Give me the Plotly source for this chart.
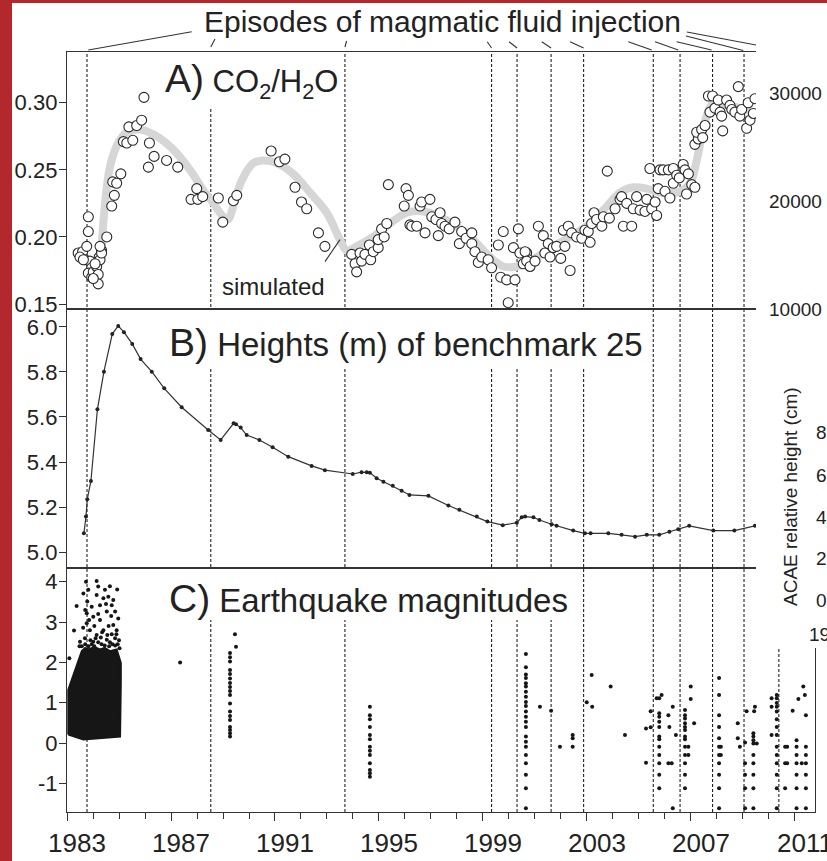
import plotly.graph_objects as go

# ---------------- data ----------------
# A) CO2/H2O ratio of fumarole gases (open circles)
co2_year = [
    1983.43, 1983.60, 1983.50, 1983.76, 1983.82, 1983.82, 1983.69, 1983.88, 1983.95, 1983.82,
    1983.95, 1984.01, 1984.14, 1984.20, 1984.24, 1984.33, 1984.27, 1984.20, 1984.01, 1984.08,
    1984.33, 1983.63, 1984.27, 1984.53, 1984.72, 1984.82, 1984.76, 1984.91, 1985.07, 1985.17,
    1985.30, 1985.53, 1985.38, 1985.68, 1985.87, 1985.96, 1986.17, 1986.13, 1986.35, 1986.83,
    1987.26, 1987.99, 1987.77, 1988.03, 1988.22, 1988.82, 1988.99, 1989.40, 1989.53, 1990.85,
    1991.17, 1991.38, 1991.77, 1992.02, 1992.22, 1992.67, 1992.92, 1993.95, 1994.08, 1994.14,
    1994.27, 1994.33, 1994.46, 1994.63, 1994.68, 1994.78, 1994.97, 1994.97, 1995.10, 1995.20,
    1995.30, 1995.36, 1995.97, 1996.04, 1996.13, 1996.19, 1996.26, 1996.45, 1996.58, 1996.64,
    1996.77, 1996.96, 1997.03, 1997.19, 1997.28, 1997.35, 1997.41, 1997.54, 1997.70, 1997.92,
    1998.09, 1998.18, 1998.35, 1998.57, 1998.57, 1998.69, 1998.82, 1998.95, 1999.20, 1999.33,
    1999.59, 1999.68, 1999.78, 1999.91, 1999.97, 2000.17, 2000.23, 2000.36, 2000.42, 2000.55,
    2000.68, 2000.74, 2000.62, 2000.68, 2000.81, 2001.00, 2001.13, 2001.32, 2001.38, 2001.51,
    2001.58, 2001.70, 2001.83, 2001.99, 2002.09, 2002.15, 2002.28, 2002.35, 2002.41, 2002.60,
    2002.80, 2002.92, 2003.05, 2003.12, 2003.18, 2003.27, 2003.37, 2003.57, 2003.63, 2003.78,
    2003.86, 2004.08, 2004.27, 2004.33, 2004.40, 2004.53, 2004.72, 2004.78, 2004.91, 2005.04,
    2005.23, 2005.30, 2005.42, 2005.49, 2005.62, 2005.68, 2005.74, 2005.81, 2005.93, 2006.00,
    2006.19, 2006.13, 2006.32, 2006.32, 2006.45, 2006.55, 2006.70, 2006.77, 2006.83, 2006.90,
    2007.03, 2007.15, 2007.15, 2007.28, 2007.22, 2007.41, 2007.45, 2007.54, 2007.67, 2007.73,
    2007.83, 2007.92, 2008.05, 2008.12, 2008.18, 2008.22, 2008.37, 2008.50, 2008.57, 2008.69,
    2008.82, 2008.88, 2008.95, 2009.14, 2009.20, 2009.27, 2009.40, 2009.46,
]
co2_ratio = [
    0.188, 0.189, 0.185, 0.193, 0.215, 0.204, 0.183, 0.182, 0.177, 0.173,
    0.170, 0.174, 0.178, 0.172, 0.185, 0.190, 0.183, 0.165, 0.169, 0.180,
    0.188, 0.183, 0.193, 0.200, 0.223, 0.231, 0.241, 0.240, 0.247, 0.271,
    0.270, 0.272, 0.282, 0.283, 0.287, 0.304, 0.270, 0.252, 0.260, 0.257,
    0.252, 0.236, 0.228, 0.228, 0.230, 0.229, 0.211, 0.227, 0.231, 0.264,
    0.256, 0.258, 0.237, 0.226, 0.221, 0.203, 0.193, 0.187, 0.180, 0.174,
    0.188, 0.182, 0.187, 0.194, 0.183, 0.189, 0.192, 0.198, 0.206, 0.200,
    0.210, 0.239, 0.223, 0.236, 0.231, 0.209, 0.208, 0.208, 0.223, 0.226,
    0.203, 0.228, 0.215, 0.213, 0.201, 0.218, 0.210, 0.208, 0.206, 0.211,
    0.195, 0.204, 0.199, 0.203, 0.195, 0.189, 0.181, 0.185, 0.183, 0.177,
    0.194, 0.170, 0.204, 0.168, 0.151, 0.192, 0.168, 0.206, 0.188, 0.180,
    0.188, 0.183, 0.189, 0.182, 0.178, 0.182, 0.208, 0.201, 0.188, 0.195,
    0.185, 0.192, 0.193, 0.184, 0.205, 0.193, 0.208, 0.175, 0.203, 0.200,
    0.199, 0.205, 0.204, 0.196, 0.210, 0.218, 0.213, 0.208, 0.215, 0.249,
    0.214, 0.221, 0.228, 0.230, 0.208, 0.225, 0.208, 0.221, 0.230, 0.220,
    0.219, 0.228, 0.251, 0.221, 0.226, 0.216, 0.236, 0.250, 0.250, 0.234,
    0.229, 0.250, 0.251, 0.240, 0.246, 0.244, 0.254, 0.250, 0.232, 0.247,
    0.239, 0.237, 0.269, 0.273, 0.278, 0.280, 0.274, 0.283, 0.305, 0.293,
    0.305, 0.296, 0.302, 0.293, 0.290, 0.279, 0.302, 0.298, 0.295, 0.293,
    0.312, 0.290, 0.295, 0.281, 0.300, 0.287, 0.292, 0.303,
]

# simulated CO2/H2O (grey band)
sim_year = [
    1984.33, 1984.65, 1984.97, 1985.30, 1985.81, 1986.45, 1987.09, 1987.73, 1988.24, 1988.63,
    1989.01, 1989.19, 1989.40, 1989.72, 1990.17, 1990.55, 1991.07, 1991.70, 1992.35, 1992.99,
    1993.50, 1993.76, 1994.14, 1994.78, 1995.42, 1996.07, 1996.70, 1997.35, 1997.99, 1998.63,
    1999.27, 1999.78, 2000.30, 2000.81, 2001.70, 2002.35, 2002.99, 2003.63, 2004.27, 2004.78,
    2005.30, 2005.81, 2006.45, 2006.96, 2007.22, 2007.41, 2007.60, 2007.86, 2008.37, 2008.88,
    2009.40,
]
sim_ratio = [
    0.193, 0.252, 0.270, 0.278, 0.280, 0.275, 0.265, 0.250, 0.235, 0.225,
    0.215, 0.213, 0.223, 0.242, 0.255, 0.257, 0.255, 0.247, 0.233, 0.218,
    0.198, 0.190, 0.193, 0.200, 0.210, 0.218, 0.219, 0.215, 0.208, 0.198,
    0.185, 0.178, 0.178, 0.182, 0.193, 0.200, 0.208, 0.220, 0.233, 0.237,
    0.236, 0.233, 0.233, 0.240, 0.257, 0.275, 0.290, 0.300, 0.298, 0.296,
    0.293,
]

# B) heights of benchmark 25 (m)
bm_year = [
    1983.65, 1983.73, 1983.78, 1983.92, 1984.17, 1984.42, 1984.74, 1984.97, 1985.19, 1985.51,
    1985.83, 1986.26, 1986.74, 1987.41, 1988.43, 1988.91, 1989.41, 1989.50, 1989.68, 1989.91,
    1990.40, 1990.91, 1991.51, 1992.41, 1992.92, 1993.99, 1994.33, 1994.53, 1994.65, 1994.91,
    1995.17, 1995.53, 1995.87, 1996.17, 1996.90, 1997.67, 1998.09, 1998.76, 1999.17, 1999.76,
    2000.30, 2000.49, 2000.62, 2000.94, 2001.17, 2001.64, 2001.83, 2002.47, 2002.92, 2003.14,
    2003.82, 2004.33, 2004.85, 2005.30, 2005.78, 2006.17, 2006.51, 2006.93, 2007.86, 2008.67,
    2009.46,
]
bm_height = [
    5.084, 5.158, 5.235, 5.316, 5.634, 5.801, 5.968, 6.004, 5.976, 5.924,
    5.857, 5.801, 5.727, 5.643, 5.542, 5.498, 5.572, 5.568, 5.553, 5.520,
    5.498, 5.466, 5.424, 5.383, 5.364, 5.347, 5.355, 5.355, 5.353, 5.328,
    5.313, 5.295, 5.273, 5.254, 5.250, 5.207, 5.188, 5.158, 5.136, 5.120,
    5.131, 5.155, 5.158, 5.155, 5.143, 5.124, 5.117, 5.096, 5.084, 5.084,
    5.084, 5.077, 5.069, 5.077, 5.077, 5.091, 5.102, 5.117, 5.096, 5.096,
    5.117,
]

# C) earthquake magnitudes
# outline of the dense 1983-1984 swarm
swarm_year = [1983.05, 1983.05, 1983.18, 1983.31, 1983.43, 1983.57, 1983.70, 1983.82, 1984.05,
              1984.27, 1984.45, 1984.65, 1984.91, 1985.07, 1985.07, 1985.04, 1983.63, 1983.31,
              1983.18, 1983.05]
swarm_mag = [0.21, 1.32, 1.56, 1.82, 2.03, 2.28, 2.36, 2.32, 2.38,
             2.32, 2.36, 2.28, 2.32, 1.99, 1.49, 0.16, 0.09, 0.16,
             0.17, 0.21]

# individual events
eq_year = (
    [1983.37, 1983.27, 1983.73, 1984.14, 1984.20, 1984.65, 1984.93, 1983.78, 1983.95, 1984.14,
     1984.27, 1984.40, 1984.59, 1984.72, 1984.85, 1984.53, 1984.01, 1983.76, 1984.27, 1984.78,
     1984.91, 1983.88, 1984.14, 1984.40, 1983.69, 1984.53, 1984.85, 1983.50, 1984.01, 1983.76,
     1983.63, 1984.78, 1984.97, 1983.82, 1984.46, 1983.09, 1984.33, 1984.65, 1983.95, 1984.95,
     1984.10, 1984.72]
    + [1983.57, 1983.70, 1983.82, 1983.90, 1984.05, 1984.20, 1984.30, 1984.45, 1984.55, 1984.62,
       1984.75, 1984.85, 1985.00, 1984.90, 1984.05, 1984.60, 1983.62, 1984.35, 1984.20, 1984.70,
       1983.85, 1984.50, 1983.70, 1985.02, 1983.48]
    + [1987.35]
    + [1989.27, 1989.27, 1989.27, 1989.27, 1989.27, 1989.27, 1989.27, 1989.27, 1989.27, 1989.27,
       1989.27, 1989.27, 1989.27, 1989.27, 1989.27, 1989.27, 1989.27, 1989.27, 1989.46, 1989.50]
    + [1994.65, 1994.65, 1994.65, 1994.65, 1994.65, 1994.65, 1994.65, 1994.65, 1994.65, 1994.65,
       1994.65, 1994.65, 1994.65]
    + [2000.65, 2000.65, 2000.65, 2000.65, 2000.65, 2000.65, 2000.65, 2000.65, 2000.65, 2000.65,
       2000.65, 2000.65, 2000.65, 2000.65, 2000.65, 2000.65, 2000.65, 2000.65, 2000.65, 2000.65,
       2000.65, 2000.65]
    + [2001.19, 2001.62, 2001.96, 2002.45, 2002.45, 2002.45, 2002.99, 2003.18, 2003.20, 2003.91,
       2004.46, 2005.27, 2005.27, 2005.45, 2005.45, 2005.68, 2005.78, 2005.87]
    + [2005.78, 2005.78, 2005.78, 2005.78, 2005.78, 2005.78, 2005.78, 2005.78, 2005.78, 2005.78,
       2005.78]
    + [2006.13, 2006.17, 2006.26, 2006.30, 2006.30, 2006.42, 2006.13]
    + [2006.77, 2006.77, 2006.77, 2006.77, 2006.77, 2006.77, 2006.77, 2006.77, 2006.77, 2006.77,
       2006.77, 2006.77, 2006.77]
    + [2006.90, 2006.90, 2006.99, 2006.99, 2007.12]
    + [2008.08, 2008.08, 2008.08, 2008.08, 2008.08, 2008.08, 2008.08, 2008.08, 2008.08, 2008.08,
       2008.08, 2008.15, 2008.15]
    + [2008.80, 2008.80, 2008.88, 2009.14, 2009.43, 2009.46]
    + [2009.08, 2009.08, 2009.08, 2009.08, 2009.08]
    + [2009.40, 2009.40, 2009.40, 2009.40, 2009.40, 2009.40, 2009.40, 2009.40, 2009.40, 2009.53]
    + [2010.30, 2010.30, 2010.30, 2010.30, 2010.30, 2010.30, 2010.30, 2010.30, 2010.30, 2010.30,
       2010.30, 2010.30, 2010.30, 2010.30, 2010.10, 2010.10, 2010.10]
    + [2010.62, 2010.62, 2010.62, 2010.70, 2010.70, 2010.91, 2011.13, 2011.32, 2011.38, 2011.42]
    + [2011.06, 2011.06, 2011.06, 2011.06, 2011.06, 2011.06, 2011.06]
    + [2011.42, 2011.42, 2011.42, 2011.42, 2011.42, 2011.42, 2011.26]
)
eq_mag = (
    [3.40, 2.79, 4.00, 4.02, 3.88, 3.89, 3.81, 3.51, 3.38, 3.67,
     3.42, 3.59, 3.63, 3.42, 3.26, 3.26, 3.13, 2.97, 3.05, 2.93,
     2.80, 2.80, 2.68, 2.80, 2.60, 2.56, 2.60, 2.51, 2.51, 3.22,
     3.71, 3.55, 3.09, 3.80, 3.80, 2.10, 2.45, 2.50, 2.45, 2.45,
     2.60, 2.70]
    + [2.40, 2.45, 2.40, 2.55, 2.40, 2.50, 2.62, 2.42, 2.68, 2.40,
       2.45, 2.42, 2.55, 2.70, 2.90, 2.90, 2.86, 2.75, 3.20, 3.15,
       3.05, 3.45, 3.30, 2.35, 2.40]
    + [2.00]
    + [2.23, 2.13, 2.02, 1.81, 1.71, 1.60, 1.49, 1.39, 1.29, 1.19,
       0.98, 0.78, 0.67, 0.57, 0.40, 0.32, 0.24, 0.16, 2.70, 2.39]
    + [0.90, 0.69, 0.59, 0.40, 0.20, 0.09, -0.09, -0.19, -0.30, -0.50,
       -0.67, -0.75, -0.84]
    + [2.21, 1.88, 1.70, 1.61, 1.48, 1.40, 1.27, 1.15, 1.02, 0.92,
       0.78, 0.65, 0.53, 0.40, 0.16, 0.03, -0.09, -0.30, -0.50, -0.79,
       -1.12, -1.62]
    + [0.90, 0.80, -0.09, 0.20, 0.12, -0.09, 1.01, 1.69, 0.90, 1.40,
       0.20, 0.36, -0.49, 0.79, 0.39, 1.11, 1.11, 1.19]
    + [0.74, 0.65, 0.53, 0.40, 0.16, 0.09, -0.09, -0.30, -0.50, -0.79,
       -1.12]
    + [0.69, 0.40, -0.50, 0.90, -1.62, 0.20, -0.50]
    + [0.82, 0.69, 0.61, 0.49, 0.40, 0.32, 0.16, 0.09, -0.09, -0.30,
       -0.50, -0.79, -1.12]
    + [-0.09, -0.30, 1.40, 1.09, 0.49]
    + [1.61, 1.19, 0.69, 0.40, 0.12, -0.09, -0.30, -0.50, -0.79, -1.12,
       -1.62, -0.09, -0.30]
    + [0.49, 0.12, -0.09, 0.79, 0.79, 0.90]
    + [0.01, -0.50, -0.79, -1.12, -1.62]
    + [0.24, 0.16, 0.07, -0.01, -0.30, -0.50, -0.79, -1.12, -1.62, -0.01]
    + [1.19, 1.11, 0.99, 0.90, 0.78, 0.59, 0.40, 0.20, -0.09, -0.30,
       -0.50, -0.79, -1.12, -1.62, 1.11, 0.90, 0.20]
    + [-0.09, -0.50, -1.12, -0.09, -0.50, 0.80, 1.09, 1.40, 1.19, 0.69]
    + [0.07, -0.09, -0.30, -0.50, -0.79, -1.12, -1.62]
    + [-0.09, -0.30, -0.50, -0.79, -1.12, -1.62, -0.50]
)

# episodes of magmatic fluid injection (decimal year)
episode_years = [1983.77, 1988.53, 1993.69, 1999.33, 2000.31, 2001.62, 2002.87,
                 2005.55, 2006.58, 2007.83, 2009.04, 2010.38]

# axis ticks
year_ticks = [1983, 1987, 1991, 1995, 1999, 2003, 2007, 2011]
year_labels = ["1983", "1987", "1991", "1995", "1999", "2003", "2007", "2011"]
ratio_ticks = [0.15, 0.20, 0.25, 0.30]
height_ticks = [5.0, 5.2, 5.4, 5.6, 5.8, 6.0]
mag_ticks = [-1, 0, 1, 2, 3, 4]
mag_labels = ["-1", "0", "1", "2", "3", "4"]

# neighbouring axis labels on the right edge
right_top_labels = ["30000", "20000", "10000"]
right_mid_labels = ["8", "6", "4", "2", "0"]

# ---------------- layout helpers ----------------
W, H = 827, 861
ML, MR, MT, MB = 67, 12, 52, 49
PW, PH = W - ML - MR, H - MT - MB
FONT = "Liberation Sans, Arial, Helvetica, sans-serif"
INK = "#222222"


def fx(px):
    return (px - ML) / PW


def fy(py):
    return (H - MB - py) / PH


X_RANGE = [1983, 2011.77]
DOM_A = [fy(309), 1.0]
DOM_B = [fy(568), fy(309)]
DOM_C = [0.0, fy(568)]

fig = go.Figure()

# A) simulated band and measured ratios
fig.add_trace(go.Scatter(x=sim_year, y=sim_ratio, mode="lines",
                         line=dict(color="#d6d6d6", width=8, shape="spline", smoothing=1.0),
                         xaxis="x", yaxis="y", hoverinfo="skip"))
fig.add_trace(go.Scatter(x=co2_year, y=co2_ratio, mode="markers",
                         marker=dict(symbol="circle", size=10, color="white",
                                     line=dict(color="#2a2a2a", width=1.1)),
                         xaxis="x", yaxis="y"))

# B) benchmark heights
fig.add_trace(go.Scatter(x=bm_year, y=bm_height, mode="lines+markers",
                         line=dict(color="#333333", width=1.2),
                         marker=dict(size=4, color="#222222"),
                         xaxis="x2", yaxis="y2"))

# C) earthquakes
fig.add_trace(go.Scatter(x=swarm_year, y=swarm_mag, mode="lines", fill="toself",
                         fillcolor="#161616", line=dict(color="#161616", width=2),
                         xaxis="x3", yaxis="y3", hoverinfo="skip"))
fig.add_trace(go.Scatter(x=eq_year, y=eq_mag, mode="markers",
                         marker=dict(size=4, color="#161616"),
                         xaxis="x3", yaxis="y3"))

line_style = dict(showline=True, linecolor="#333333", linewidth=1.3, mirror=True,
                  showgrid=False, zeroline=False)
ytick_style = dict(ticks="outside", ticklen=7, tickwidth=1.3, tickcolor="#333333",
                   ticklabelstandoff=-3,
                   tickfont=dict(family=FONT, size=22, color=INK))

fig.update_layout(
    width=W, height=H,
    margin=dict(l=ML, r=MR, t=MT, b=MB, autoexpand=False),
    paper_bgcolor="white", plot_bgcolor="white",
    showlegend=False,
    font=dict(family=FONT, color=INK),
    xaxis=dict(domain=[0, 1], range=X_RANGE, anchor="y", showticklabels=False, ticks="",
               **line_style),
    xaxis2=dict(domain=[0, 1], range=X_RANGE, anchor="y2", showticklabels=False, ticks="",
                **line_style),
    xaxis3=dict(domain=[0, 1], range=X_RANGE, anchor="y3",
                tickmode="array", tickvals=year_ticks, ticktext=year_labels,
                ticks="outside", ticklen=8, tickwidth=1.3, tickcolor="#333333",
                ticklabelshift=10, ticklabeloverflow="allow",
                tickfont=dict(family=FONT, size=26, color=INK),
                minor=dict(tickmode="linear", tick0=1983, dtick=1, ticks="outside",
                           ticklen=6, tickwidth=1.3, tickcolor="#333333"),
                **line_style),
    yaxis=dict(domain=DOM_A, range=[0.1463, 0.3378], anchor="x",
               tickmode="array", tickvals=ratio_ticks, tickformat=".2f",
               **ytick_style, **line_style),
    yaxis2=dict(domain=DOM_B, range=[4.930, 6.079], anchor="x2",
                tickmode="array", tickvals=height_ticks, tickformat=".1f",
                **ytick_style, **line_style),
    yaxis3=dict(domain=DOM_C, range=[-1.712, 4.342], anchor="x3",
                tickmode="array", tickvals=mag_ticks, ticktext=mag_labels,
                **ytick_style, **line_style),
)

shapes = []
# dashed episode markers through all three panels
for yr in episode_years:
    shapes.append(dict(type="line", xref="x3", yref="paper", x0=yr, x1=yr, y0=0, y1=1,
                       layer="below", line=dict(color="#222222", width=1.1, dash="3px,2px")))

# white backing behind the panel titles
for (x0, x1, y0, y1) in [(160, 340, 52, 107), (165, 642, 309, 367), (165, 567, 568, 620)]:
    shapes.append(dict(type="rect", xref="paper", yref="paper",
                       x0=fx(x0), x1=fx(x1), y0=fy(y1), y1=fy(y0),
                       layer="below", fillcolor="white", line=dict(width=0)))

# leader lines from the heading to each episode (pixel offsets from the line tops)
pointer_offsets = [(104.7, 20.3, 1.3, 2), (4.2, 13, 0, 5), (1.7, 11, 0, 5), (-4.3, 10.3, 0, 4),
                   (-8, 10.3, 0, 4), (-9.4, 10.3, 0, 4), (-13.6, 10.3, 0, 4),
                   (-25, 10.3, -1.6, 2), (-25, 10.3, -1.8, 2), (-36, 10.3, -1, 2),
                   (-58, 16, -0.7, 1.5), (-92, 20, 0, 2.7)]
for yr, (dx0, up0, dx1, up1) in zip(episode_years, pointer_offsets):
    shapes.append(dict(type="line", xref="x3", yref="paper",
                       xsizemode="pixel", ysizemode="pixel", xanchor=yr, yanchor=1,
                       x0=dx0, y0=up0, x1=dx1, y1=up1,
                       line=dict(color="#333333", width=1.1)))

# leader from the "simulated" label to the grey band
shapes.append(dict(type="line", xref="x", yref="y", xsizemode="pixel", ysizemode="pixel",
                   xanchor=sim_year[20], yanchor=sim_ratio[20],
                   x0=-15, y0=-22, x1=0, y1=0, line=dict(color="#333333", width=1.1)))

# neighbouring figure strip on the right
shapes.append(dict(type="rect", xref="paper", yref="paper", x0=fx(756), x1=fx(840),
                   y0=fy(648), y1=fy(-10), layer="above", fillcolor="white",
                   line=dict(width=0)))
# page frame colour
shapes.append(dict(type="rect", xref="paper", yref="paper", x0=fx(-10), x1=fx(12),
                   y0=fy(880), y1=fy(-10), layer="above", fillcolor="#b3282c",
                   line=dict(width=0)))
shapes.append(dict(type="rect", xref="paper", yref="paper", x0=fx(-10), x1=fx(840),
                   y0=fy(3), y1=fy(-10), layer="above", fillcolor="#b3282c",
                   line=dict(width=0)))
fig.update_layout(shapes=shapes)

ann = []


def label(text, px, py, size, xanchor="left", yanchor="middle", angle=0):
    ann.append(dict(text=text, x=fx(px), y=fy(py), xref="paper", yref="paper",
                    xanchor=xanchor, yanchor=yanchor, showarrow=False, textangle=angle,
                    borderpad=0, font=dict(family=FONT, size=size, color=INK)))


label("Episodes of magmatic fluid injection", 442, 22, 30, xanchor="center")
label('<span style="font-size:39px">A)</span> CO<sub>2</sub>/H<sub>2</sub>O', 164, 80, 31)
label('<span style="font-size:39px">B)</span> Heights (m) of benchmark 25', 168, 342, 33)
label('<span style="font-size:39px">C)</span> Earthquake magnitudes', 168, 598, 33)
label("simulated", 273, 286, 24, xanchor="center")

for txt, py in zip(right_top_labels, [94, 201, 309]):
    label(txt, 768, py, 19)
label("ACAE relative height (cm)", 790, 497, 19, xanchor="center", angle=-90)
for txt, py in zip(right_mid_labels, [433, 475, 517, 558, 600]):
    label(txt, 815, py, 19)
label("19", 808, 634, 19)

fig.update_layout(annotations=ann)

fig.write_html("out.html")
